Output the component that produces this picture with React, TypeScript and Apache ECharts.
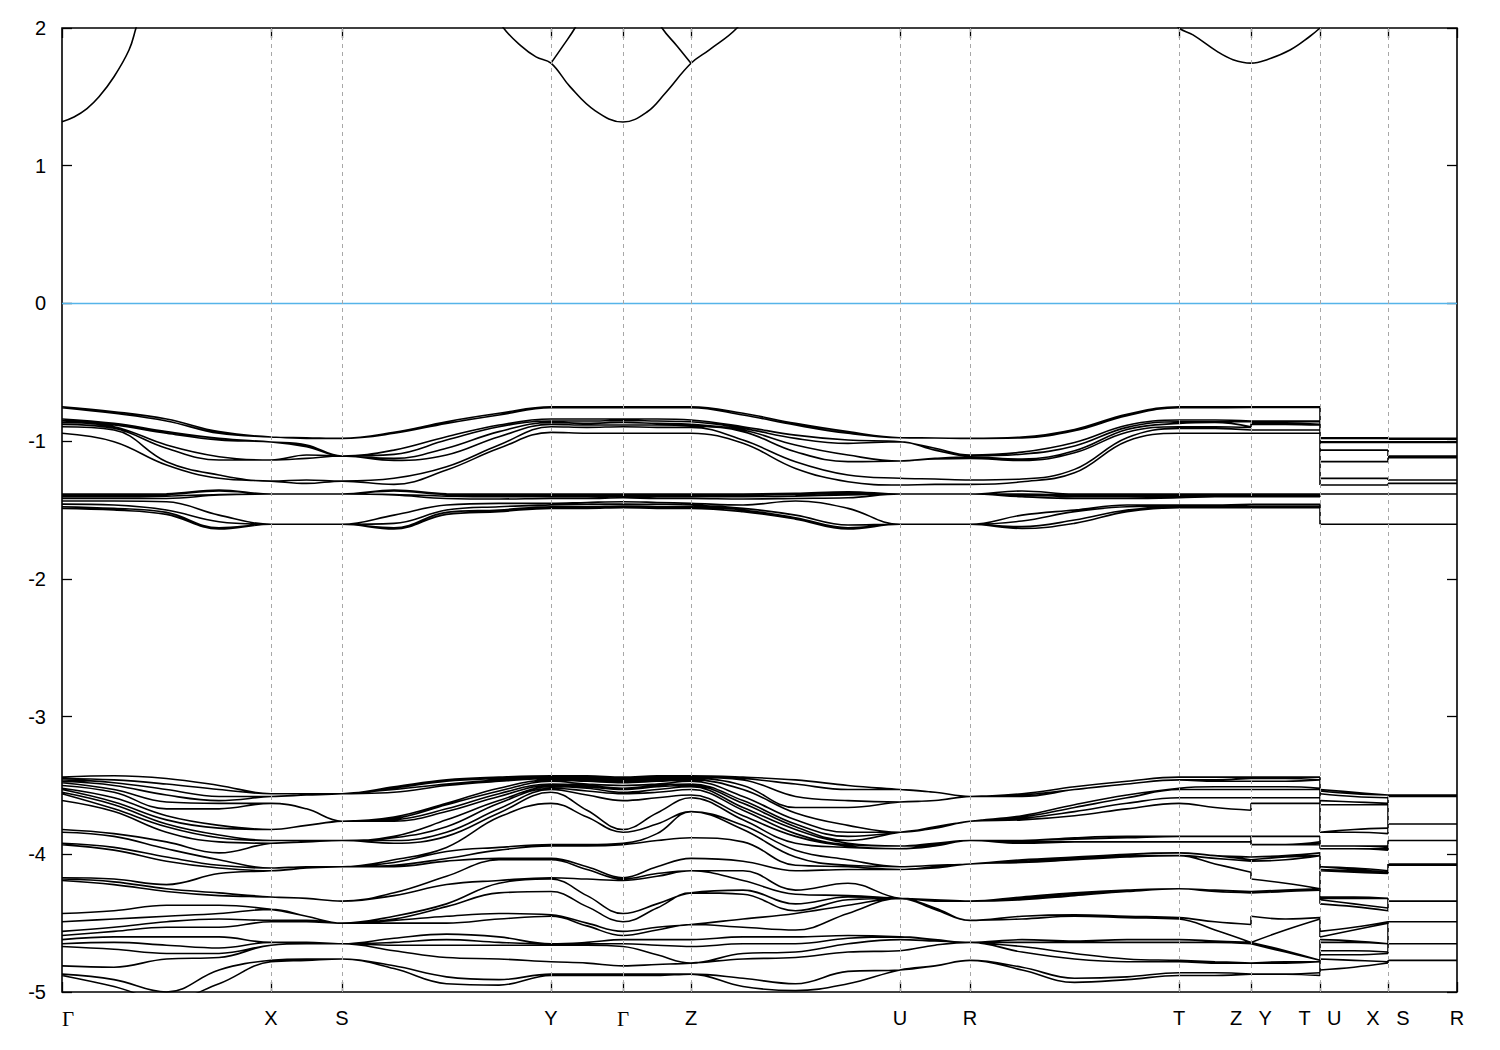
import React, { useEffect, useRef } from "react";
import * as echarts from "echarts";

// High-symmetry path (k in arbitrary path-length units)
const kPathTicks = [0, 209, 280, 489, 561, 629, 838, 908, 1117, 1189, 1258, 1326, 1395];
const kPathLabels = ["Γ", "X", "S", "Y", "Γ", "Z", "U", "R", "T", "Z   Y", "T   U", "X   S", "R"];
const energyMin = -5;
const energyMax = 2;
const energyStep = 1;

// k positions at which valence energies were read (Γ-X-S-Y-Γ-Z-U-R-T-Z | Y-T | U-X | S-R)
const kSamples = [
  0, 52, 104.5, 157, 209, 244.5, 280, 332, 384.5, 437, 489, 525, 561, 595, 629, 681, 733.5, 786,
  838, 873, 908, 960, 1012.5, 1065, 1117, 1153, 1189, 1189, 1223.5, 1258, 1258, 1292, 1326, 1326,
  1360.5, 1395,
];

// Upper valence manifold (-0.75 .. -1.65 eV): sorted energies at each k sample
const valenceUpper: number[][] = [
  [-0.750, -0.757, -0.839, -0.849, -0.864, -0.878, -0.895, -0.943, -1.384, -1.391, -1.403, -1.416, -1.435, -1.457, -1.476, -1.488],
  [-0.786, -0.798, -0.871, -0.883, -0.895, -0.907, -0.919, -1.004, -1.384, -1.391, -1.403, -1.416, -1.435, -1.464, -1.488, -1.500],
  [-0.839, -0.854, -0.931, -0.943, -1.028, -1.052, -1.149, -1.173, -1.382, -1.387, -1.399, -1.416, -1.440, -1.500, -1.517, -1.532],
  [-0.931, -0.943, -0.980, -0.992, -1.113, -1.137, -1.246, -1.270, -1.355, -1.362, -1.387, -1.391, -1.537, -1.585, -1.629, -1.638],
  [-0.970, -0.970, -1.006, -1.006, -1.137, -1.137, -1.290, -1.290, -1.384, -1.384, -1.384, -1.384, -1.604, -1.604, -1.604, -1.604],
  [-0.975, -0.980, -1.028, -1.040, -1.101, -1.125, -1.282, -1.307, -1.384, -1.384, -1.384, -1.384, -1.604, -1.604, -1.604, -1.604],
  [-0.980, -0.980, -1.108, -1.108, -1.108, -1.108, -1.290, -1.290, -1.384, -1.384, -1.384, -1.384, -1.604, -1.604, -1.604, -1.604],
  [-0.936, -0.943, -1.065, -1.096, -1.125, -1.140, -1.270, -1.314, -1.355, -1.362, -1.387, -1.391, -1.537, -1.597, -1.629, -1.638],
  [-0.859, -0.871, -0.968, -0.992, -1.052, -1.101, -1.186, -1.210, -1.382, -1.387, -1.399, -1.416, -1.464, -1.500, -1.517, -1.532],
  [-0.798, -0.810, -0.883, -0.895, -0.931, -0.968, -1.028, -1.052, -1.384, -1.391, -1.403, -1.420, -1.452, -1.476, -1.500, -1.512],
  [-0.750, -0.757, -0.839, -0.854, -0.864, -0.878, -0.895, -0.936, -1.384, -1.391, -1.403, -1.416, -1.452, -1.464, -1.476, -1.488],
  [-0.750, -0.757, -0.839, -0.854, -0.871, -0.883, -0.900, -0.943, -1.384, -1.391, -1.403, -1.416, -1.445, -1.459, -1.476, -1.488],
  [-0.750, -0.757, -0.839, -0.849, -0.864, -0.883, -0.895, -0.943, -1.384, -1.391, -1.399, -1.411, -1.440, -1.457, -1.471, -1.483],
  [-0.750, -0.757, -0.839, -0.854, -0.871, -0.883, -0.900, -0.943, -1.384, -1.391, -1.403, -1.416, -1.445, -1.459, -1.476, -1.488],
  [-0.750, -0.757, -0.847, -0.859, -0.878, -0.888, -0.900, -0.943, -1.384, -1.391, -1.403, -1.416, -1.452, -1.464, -1.476, -1.488],
  [-0.798, -0.810, -0.895, -0.907, -0.919, -0.931, -0.992, -1.016, -1.384, -1.391, -1.403, -1.420, -1.464, -1.488, -1.500, -1.512],
  [-0.871, -0.883, -0.956, -0.980, -1.028, -1.077, -1.149, -1.198, -1.379, -1.387, -1.399, -1.416, -1.435, -1.537, -1.556, -1.566],
  [-0.931, -0.943, -0.992, -1.016, -1.101, -1.149, -1.246, -1.295, -1.367, -1.379, -1.391, -1.411, -1.488, -1.609, -1.629, -1.638],
  [-0.975, -0.975, -1.004, -1.004, -1.144, -1.144, -1.270, -1.319, -1.384, -1.384, -1.384, -1.384, -1.604, -1.604, -1.604, -1.604],
  [-0.977, -0.977, -1.052, -1.065, -1.125, -1.130, -1.275, -1.314, -1.384, -1.384, -1.384, -1.384, -1.604, -1.604, -1.604, -1.604],
  [-0.980, -0.980, -1.101, -1.108, -1.115, -1.125, -1.282, -1.314, -1.384, -1.384, -1.384, -1.384, -1.604, -1.604, -1.604, -1.604],
  [-0.970, -0.976, -1.080, -1.095, -1.130, -1.140, -1.275, -1.295, -1.362, -1.384, -1.391, -1.403, -1.537, -1.580, -1.621, -1.634],
  [-0.915, -0.925, -1.010, -1.035, -1.070, -1.085, -1.205, -1.230, -1.384, -1.391, -1.403, -1.416, -1.500, -1.512, -1.573, -1.597],
  [-0.805, -0.815, -0.885, -0.900, -0.915, -0.935, -0.975, -1.000, -1.384, -1.391, -1.403, -1.416, -1.464, -1.476, -1.500, -1.512],
  [-0.750, -0.757, -0.847, -0.859, -0.871, -0.895, -0.907, -0.943, -1.384, -1.391, -1.403, -1.411, -1.464, -1.471, -1.476, -1.483],
  [-0.750, -0.757, -0.847, -0.859, -0.864, -0.895, -0.907, -0.943, -1.384, -1.391, -1.396, -1.403, -1.464, -1.471, -1.476, -1.483],
  [-0.750, -0.755, -0.854, -0.859, -0.895, -0.900, -0.919, -0.943, -1.384, -1.391, -1.396, -1.403, -1.459, -1.464, -1.476, -1.483],
  [-0.750, -0.755, -0.854, -0.859, -0.871, -0.878, -0.919, -0.943, -1.384, -1.391, -1.396, -1.403, -1.459, -1.464, -1.476, -1.483],
  [-0.750, -0.755, -0.854, -0.859, -0.871, -0.878, -0.919, -0.943, -1.384, -1.391, -1.396, -1.403, -1.459, -1.464, -1.476, -1.483],
  [-0.750, -0.755, -0.854, -0.859, -0.878, -0.883, -0.919, -0.943, -1.384, -1.391, -1.396, -1.403, -1.459, -1.464, -1.476, -1.483],
  [-0.975, -0.980, -1.004, -1.009, -1.065, -1.149, -1.270, -1.319, -1.384, -1.384, -1.384, -1.384, -1.604, -1.604, -1.604, -1.604],
  [-0.975, -0.980, -1.004, -1.009, -1.065, -1.149, -1.270, -1.319, -1.384, -1.384, -1.384, -1.384, -1.604, -1.604, -1.604, -1.604],
  [-0.975, -0.980, -1.004, -1.009, -1.065, -1.149, -1.270, -1.319, -1.384, -1.384, -1.384, -1.384, -1.604, -1.604, -1.604, -1.604],
  [-0.980, -0.985, -1.004, -1.009, -1.108, -1.120, -1.282, -1.307, -1.384, -1.384, -1.384, -1.384, -1.604, -1.604, -1.604, -1.604],
  [-0.980, -0.985, -1.004, -1.009, -1.108, -1.120, -1.282, -1.307, -1.384, -1.384, -1.384, -1.384, -1.604, -1.604, -1.604, -1.604],
  [-0.980, -0.985, -1.004, -1.009, -1.108, -1.120, -1.282, -1.307, -1.384, -1.384, -1.384, -1.384, -1.604, -1.604, -1.604, -1.604],
];

// Lower valence manifold (-3.4 .. -5 eV): sorted energies at each k sample
const valenceLower: number[][] = [
  [-3.44, -3.45, -3.46, -3.47, -3.48, -3.50, -3.52, -3.53, -3.55, -3.56, -3.61, -3.82, -3.84, -3.92, -3.93, -4.17, -4.18, -4.19, -4.43, -4.49, -4.56, -4.59, -4.62, -4.65, -4.67, -4.81, -4.87, -4.88],
  [-3.43, -3.46, -3.48, -3.50, -3.53, -3.55, -3.59, -3.62, -3.64, -3.67, -3.69, -3.85, -3.87, -3.95, -3.97, -4.18, -4.20, -4.22, -4.41, -4.47, -4.53, -4.56, -4.60, -4.64, -4.69, -4.82, -4.91, -4.96],
  [-3.45, -3.49, -3.53, -3.57, -3.62, -3.67, -3.72, -3.75, -3.78, -3.80, -3.84, -3.91, -3.96, -4.02, -4.05, -4.22, -4.25, -4.27, -4.37, -4.45, -4.49, -4.53, -4.60, -4.66, -4.72, -4.76, -5.00, -5.06],
  [-3.50, -3.53, -3.58, -3.61, -3.63, -3.67, -3.79, -3.81, -3.86, -3.88, -3.91, -3.99, -4.04, -4.08, -4.10, -4.14, -4.28, -4.30, -4.37, -4.43, -4.47, -4.53, -4.60, -4.68, -4.72, -4.75, -4.84, -4.94],
  [-3.56, -3.56, -3.58, -3.58, -3.63, -3.63, -3.82, -3.82, -3.90, -3.90, -3.92, -3.92, -4.10, -4.10, -4.12, -4.12, -4.31, -4.31, -4.40, -4.40, -4.48, -4.49, -4.64, -4.64, -4.66, -4.66, -4.77, -4.78],
  [-3.56, -3.56, -3.57, -3.57, -3.67, -3.67, -3.79, -3.79, -3.90, -3.90, -3.91, -3.91, -4.09, -4.09, -4.10, -4.10, -4.32, -4.32, -4.45, -4.45, -4.48, -4.49, -4.64, -4.64, -4.65, -4.65, -4.76, -4.77],
  [-3.56, -3.56, -3.56, -3.56, -3.76, -3.76, -3.76, -3.76, -3.90, -3.90, -3.90, -3.90, -4.09, -4.09, -4.09, -4.09, -4.34, -4.34, -4.50, -4.50, -4.50, -4.50, -4.65, -4.65, -4.65, -4.65, -4.76, -4.76],
  [-3.51, -3.52, -3.53, -3.55, -3.73, -3.74, -3.75, -3.76, -3.87, -3.88, -3.90, -3.92, -4.04, -4.06, -4.08, -4.09, -4.28, -4.30, -4.45, -4.47, -4.48, -4.50, -4.61, -4.64, -4.66, -4.70, -4.81, -4.83],
  [-3.46, -3.47, -3.49, -3.50, -3.63, -3.64, -3.67, -3.69, -3.75, -3.80, -3.84, -3.87, -3.95, -3.98, -4.03, -4.05, -4.16, -4.22, -4.36, -4.38, -4.45, -4.50, -4.58, -4.62, -4.66, -4.75, -4.89, -4.94],
  [-3.44, -3.45, -3.46, -3.47, -3.52, -3.54, -3.56, -3.58, -3.61, -3.63, -3.67, -3.70, -3.73, -3.95, -3.97, -4.03, -4.04, -4.19, -4.21, -4.28, -4.43, -4.47, -4.60, -4.64, -4.66, -4.76, -4.91, -4.95],
  [-3.43, -3.44, -3.44, -3.45, -3.46, -3.47, -3.49, -3.50, -3.51, -3.52, -3.53, -3.55, -3.63, -3.93, -3.94, -4.03, -4.04, -4.17, -4.18, -4.27, -4.44, -4.45, -4.65, -4.65, -4.66, -4.78, -4.87, -4.88],
  [-3.43, -3.44, -3.45, -3.46, -3.47, -3.49, -3.50, -3.51, -3.52, -3.54, -3.57, -3.68, -3.73, -3.93, -3.94, -4.09, -4.11, -4.18, -4.30, -4.38, -4.50, -4.52, -4.64, -4.65, -4.66, -4.79, -4.87, -4.88],
  [-3.44, -3.45, -3.46, -3.47, -3.48, -3.50, -3.52, -3.53, -3.55, -3.56, -3.61, -3.82, -3.84, -3.92, -3.93, -4.17, -4.18, -4.19, -4.43, -4.49, -4.56, -4.59, -4.62, -4.65, -4.67, -4.81, -4.87, -4.88],
  [-3.43, -3.44, -3.45, -3.46, -3.47, -3.49, -3.50, -3.51, -3.53, -3.55, -3.59, -3.70, -3.78, -3.85, -3.90, -4.09, -4.14, -4.16, -4.36, -4.39, -4.53, -4.55, -4.62, -4.66, -4.73, -4.80, -4.87, -4.88],
  [-3.43, -3.43, -3.44, -3.45, -3.46, -3.47, -3.49, -3.50, -3.51, -3.53, -3.57, -3.59, -3.69, -3.69, -3.88, -4.03, -4.12, -4.12, -4.28, -4.28, -4.51, -4.51, -4.62, -4.67, -4.79, -4.79, -4.87, -4.87],
  [-3.44, -3.45, -3.46, -3.50, -3.53, -3.58, -3.61, -3.63, -3.66, -3.68, -3.72, -3.75, -3.79, -3.82, -3.91, -4.05, -4.12, -4.19, -4.26, -4.29, -4.47, -4.53, -4.60, -4.65, -4.72, -4.76, -4.90, -4.96],
  [-3.46, -3.49, -3.58, -3.66, -3.70, -3.75, -3.78, -3.80, -3.82, -3.85, -3.87, -3.92, -3.97, -4.02, -4.08, -4.12, -4.26, -4.29, -4.36, -4.41, -4.43, -4.55, -4.60, -4.65, -4.71, -4.75, -4.94, -4.99],
  [-3.50, -3.53, -3.61, -3.66, -3.79, -3.84, -3.87, -3.90, -3.92, -3.93, -3.94, -3.95, -4.04, -4.08, -4.09, -4.11, -4.21, -4.30, -4.31, -4.33, -4.37, -4.43, -4.59, -4.61, -4.65, -4.71, -4.85, -4.94],
  [-3.53, -3.53, -3.62, -3.62, -3.84, -3.84, -3.84, -3.84, -3.94, -3.94, -3.96, -3.96, -4.09, -4.09, -4.11, -4.11, -4.32, -4.32, -4.32, -4.32, -4.32, -4.32, -4.60, -4.60, -4.62, -4.70, -4.84, -4.84],
  [-3.55, -3.55, -3.61, -3.61, -3.80, -3.81, -3.81, -3.81, -3.92, -3.93, -3.93, -3.94, -4.08, -4.08, -4.09, -4.10, -4.33, -4.33, -4.33, -4.34, -4.39, -4.40, -4.62, -4.62, -4.63, -4.66, -4.81, -4.81],
  [-3.58, -3.58, -3.58, -3.58, -3.76, -3.76, -3.76, -3.76, -3.90, -3.90, -3.90, -3.90, -4.07, -4.07, -4.07, -4.07, -4.34, -4.34, -4.34, -4.34, -4.48, -4.48, -4.64, -4.64, -4.64, -4.64, -4.77, -4.77],
  [-3.56, -3.56, -3.57, -3.58, -3.72, -3.73, -3.74, -3.75, -3.90, -3.90, -3.91, -3.92, -4.04, -4.05, -4.05, -4.06, -4.31, -4.31, -4.32, -4.33, -4.45, -4.47, -4.62, -4.64, -4.67, -4.71, -4.82, -4.84],
  [-3.51, -3.51, -3.53, -3.53, -3.64, -3.66, -3.69, -3.72, -3.88, -3.89, -3.91, -3.91, -4.02, -4.03, -4.04, -4.04, -4.28, -4.28, -4.29, -4.30, -4.44, -4.45, -4.63, -4.64, -4.72, -4.76, -4.90, -4.93],
  [-3.47, -3.47, -3.49, -3.49, -3.57, -3.59, -3.63, -3.67, -3.87, -3.88, -3.91, -3.91, -4.00, -4.00, -4.01, -4.02, -4.26, -4.26, -4.27, -4.27, -4.45, -4.46, -4.62, -4.64, -4.76, -4.78, -4.89, -4.91],
  [-3.44, -3.44, -3.46, -3.46, -3.52, -3.53, -3.59, -3.63, -3.87, -3.87, -3.91, -3.91, -3.99, -3.99, -4.01, -4.01, -4.25, -4.25, -4.25, -4.25, -4.46, -4.47, -4.62, -4.64, -4.77, -4.78, -4.86, -4.88],
  [-3.44, -3.44, -3.46, -3.47, -3.51, -3.53, -3.59, -3.66, -3.87, -3.87, -3.91, -3.91, -4.01, -4.01, -4.03, -4.07, -4.26, -4.27, -4.27, -4.27, -4.49, -4.55, -4.63, -4.64, -4.78, -4.79, -4.86, -4.88],
  [-3.44, -3.45, -3.45, -3.47, -3.51, -3.53, -3.59, -3.68, -3.87, -3.87, -3.91, -3.91, -4.02, -4.04, -4.05, -4.13, -4.27, -4.28, -4.28, -4.28, -4.51, -4.64, -4.64, -4.65, -4.79, -4.79, -4.87, -4.87],
  [-3.44, -3.45, -3.45, -3.47, -3.51, -3.53, -3.59, -3.63, -3.87, -3.93, -3.93, -3.93, -4.02, -4.04, -4.05, -4.18, -4.27, -4.28, -4.28, -4.28, -4.45, -4.64, -4.64, -4.65, -4.79, -4.79, -4.87, -4.87],
  [-3.44, -3.45, -3.45, -3.47, -3.51, -3.53, -3.59, -3.63, -3.87, -3.93, -3.93, -3.93, -4.01, -4.02, -4.04, -4.21, -4.26, -4.27, -4.27, -4.27, -4.47, -4.55, -4.70, -4.71, -4.78, -4.79, -4.87, -4.87],
  [-3.44, -3.44, -3.46, -3.46, -3.52, -3.53, -3.59, -3.63, -3.87, -3.91, -3.92, -3.93, -3.99, -4.01, -4.01, -4.25, -4.25, -4.25, -4.26, -4.26, -4.46, -4.47, -4.77, -4.77, -4.78, -4.78, -4.86, -4.88],
  [-3.53, -3.54, -3.56, -3.61, -3.64, -3.64, -3.84, -3.84, -3.94, -3.94, -3.96, -3.96, -4.09, -4.09, -4.11, -4.12, -4.31, -4.32, -4.33, -4.36, -4.56, -4.60, -4.62, -4.64, -4.70, -4.73, -4.76, -4.84],
  [-3.55, -3.56, -3.58, -3.62, -3.64, -3.64, -3.82, -3.84, -3.94, -3.94, -3.96, -3.96, -4.10, -4.11, -4.12, -4.13, -4.31, -4.32, -4.36, -4.38, -4.53, -4.55, -4.63, -4.64, -4.70, -4.73, -4.77, -4.82],
  [-3.57, -3.57, -3.59, -3.63, -3.64, -3.64, -3.81, -3.85, -3.94, -3.95, -3.96, -3.97, -4.12, -4.13, -4.13, -4.14, -4.32, -4.32, -4.39, -4.41, -4.49, -4.50, -4.65, -4.65, -4.71, -4.72, -4.78, -4.79],
  [-3.57, -3.57, -3.58, -3.58, -3.78, -3.78, -3.78, -3.78, -3.90, -3.90, -3.90, -3.90, -4.07, -4.07, -4.08, -4.08, -4.34, -4.34, -4.34, -4.34, -4.49, -4.49, -4.49, -4.49, -4.65, -4.65, -4.77, -4.77],
  [-3.57, -3.57, -3.58, -3.58, -3.78, -3.78, -3.78, -3.78, -3.90, -3.90, -3.90, -3.90, -4.07, -4.07, -4.08, -4.08, -4.34, -4.34, -4.34, -4.34, -4.49, -4.49, -4.49, -4.49, -4.65, -4.65, -4.77, -4.77],
  [-3.57, -3.57, -3.58, -3.58, -3.78, -3.78, -3.78, -3.78, -3.90, -3.90, -3.90, -3.90, -4.07, -4.07, -4.08, -4.08, -4.34, -4.34, -4.34, -4.34, -4.49, -4.49, -4.49, -4.49, -4.65, -4.65, -4.77, -4.77],
];

// Conduction-band pieces visible below 2 eV: [k, E]
const condGammaStart = [[0, 1.32], [12, 1.354], [25, 1.415], [37, 1.5], [52, 1.646], [67, 1.84], [74, 2.0], [82, 2.2]];
const condYGammaZ = [[430, 2.15], [441.5, 2.0], [459, 1.87], [474, 1.79], [489, 1.745], [508, 1.574], [533, 1.4], [561, 1.317], [585, 1.39], [603, 1.525], [629, 1.744], [647, 1.84], [675, 2.0], [688, 2.15]];
const condYUp = [[489, 1.745], [501, 1.87], [513, 2.0], [520, 2.1]];
const condZDown = [[592, 2.12], [600, 2.0], [615, 1.87], [629, 1.744]];
const condTZYT = [[1105, 2.1], [1117, 2.0], [1131, 1.95], [1155, 1.83], [1171, 1.77], [1189, 1.745], [1205, 1.77], [1228, 1.84], [1248, 1.94], [1258, 2.0]];

const FONT = "'Liberation Sans', Arial, Helvetica, sans-serif";

function buildBandData(cols: number[][]) {
  const nb = cols[0].length;
  const pieces = [[0, 26], [27, 29], [30, 32], [33, 35]];
  const jumps = [[26, 27], [29, 30], [32, 33]];
  const curved: (number | null)[][] = [];
  const straight: (number | null)[][] = [];
  for (let b = 0; b < nb; b++) {
    for (const [s, e] of pieces) {
      for (let i = s; i <= e; i++) curved.push([kSamples[i], cols[i][b]]);
      curved.push([kSamples[e], null]);
    }
    for (const [a, c] of jumps) {
      straight.push([kSamples[a], cols[a][b]], [kSamples[c], cols[c][b]], [kSamples[c], null]);
    }
  }
  return { curved, straight };
}

function joinPieces(pieces: number[][][]) {
  const out: (number | null)[][] = [];
  for (const p of pieces) {
    for (const pt of p) out.push(pt);
    out.push([p[p.length - 1][0], null]);
  }
  return out;
}

export default function App() {
  const ref = useRef<HTMLDivElement>(null);
  useEffect(() => {
    if (!ref.current) return;
    const chart = echarts.init(ref.current, null, { renderer: "svg" });
    const up = buildBandData(valenceUpper);
    const low = buildBandData(valenceLower);
    const cond = joinPieces([condGammaStart, condYGammaZ, condYUp, condZDown, condTZYT]);
    const bandLine = { color: "#000", width: 1.6 };
    const kMin = kPathTicks[0];
    const kMax = kPathTicks[kPathTicks.length - 1];
    const labelFor = (v: number) => {
      let best = 0;
      for (let i = 1; i < kPathTicks.length; i++) {
        if (Math.abs(kPathTicks[i] - v) < Math.abs(kPathTicks[best] - v)) best = i;
      }
      const t = kPathLabels[best];
      return t === "Γ" ? "{g|Γ}" : t;
    };
    const tickStyle = { show: true, inside: true, length: 10, lineStyle: { color: "#000", width: 1.3 } };
    const hiddenLine = { show: false, onZero: false };
    chart.setOption({
      animation: false,
      backgroundColor: "#fff",
      grid: { left: 62, right: 43, top: 28, bottom: 58, show: true, borderColor: "#000", borderWidth: 1.6, containLabel: false },
      xAxis: [
        {
          type: "value",
          min: kMin,
          max: kMax,
          position: "bottom",
          axisLine: hiddenLine,
          splitLine: { show: false },
          axisTick: { ...tickStyle, customValues: kPathTicks },
          axisLabel: {
            customValues: kPathTicks,
            formatter: labelFor,
            margin: 16,
            fontSize: 20,
            fontFamily: FONT,
            color: "#000",
            alignMinLabel: "left",
            rich: { g: { fontFamily: "'Liberation Serif', 'DejaVu Serif', serif", fontSize: 21, color: "#000" } },
          },
        },
        {
          type: "value",
          min: kMin,
          max: kMax,
          position: "top",
          axisLine: hiddenLine,
          splitLine: { show: false },
          axisTick: { ...tickStyle, customValues: kPathTicks },
          axisLabel: { show: false },
        },
      ],
      yAxis: [
        {
          type: "value",
          min: energyMin,
          max: energyMax,
          interval: energyStep,
          position: "left",
          axisLine: hiddenLine,
          splitLine: { show: false },
          axisTick: tickStyle,
          axisLabel: { margin: 16, fontSize: 20, fontFamily: FONT, color: "#000" },
        },
        {
          type: "value",
          min: energyMin,
          max: energyMax,
          interval: energyStep,
          position: "right",
          axisLine: hiddenLine,
          splitLine: { show: false },
          axisTick: tickStyle,
          axisLabel: { show: false },
        },
      ],
      series: [
        {
          name: "fermi",
          type: "line",
          z: 1,
          showSymbol: false,
          symbol: "none",
          data: [[kMin, 0], [kMax, 0]],
          lineStyle: { color: "#56b4e9", width: 1.5 },
          markLine: {
            silent: true,
            symbol: "none",
            label: { show: false },
            lineStyle: { color: "#a8a8a8", type: [4, 4], width: 1 },
            data: kPathTicks.slice(1, -1).map((k) => ({ xAxis: k })),
          },
        },
        { name: "vUpper", type: "line", z: 3, showSymbol: false, symbol: "none", smooth: 0.4, connectNulls: false, data: up.curved, lineStyle: bandLine },
        { name: "vLower", type: "line", z: 3, showSymbol: false, symbol: "none", smooth: 0.4, connectNulls: false, data: low.curved, lineStyle: bandLine },
        { name: "jumps", type: "line", z: 3, showSymbol: false, symbol: "none", smooth: false, connectNulls: false, data: [...up.straight, ...low.straight], lineStyle: bandLine },
        { name: "cond", type: "line", z: 3, showSymbol: false, symbol: "none", smooth: 0.4, connectNulls: false, data: cond, lineStyle: bandLine },
      ],
    });
    return () => chart.dispose();
  }, []);
  return (
    <div
      ref={ref}
      style={{ position: "absolute", left: 0, top: 0, width: 1500, height: 1050, background: "#fff" }}
    />
  );
}
